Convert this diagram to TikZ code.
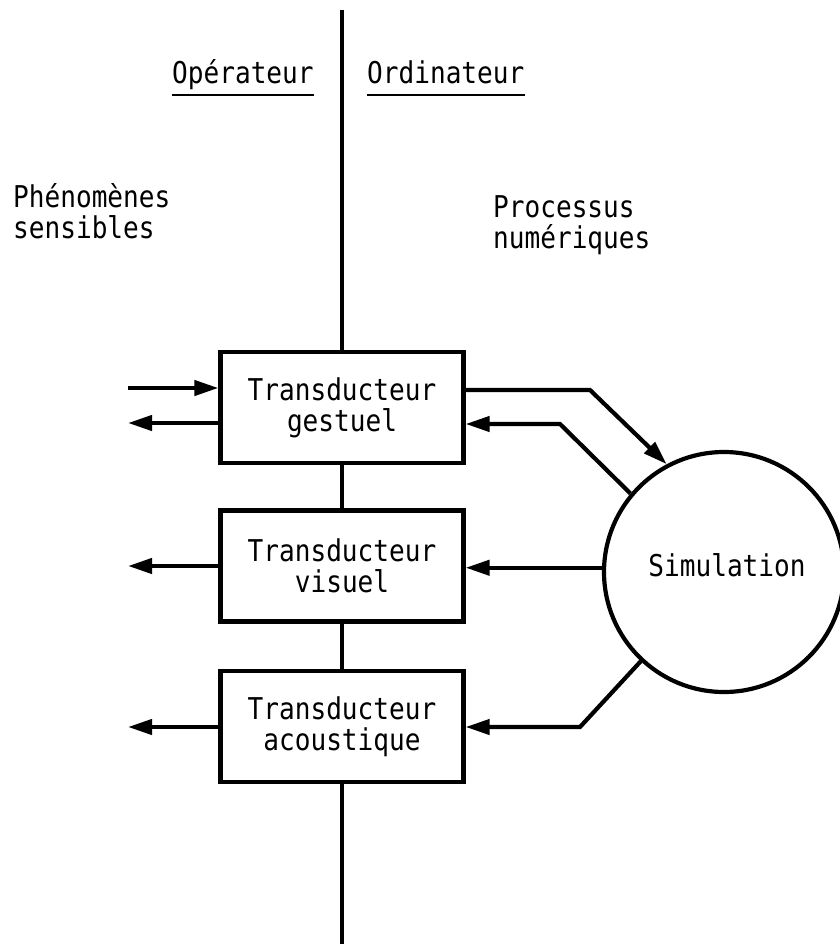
\documentclass[tikz,border=0pt]{standalone}
\usepackage{fontspec}
\newfontfamily\typefont[FakeStretch=0.87]{DejaVu Sans Mono}
\usetikzlibrary{arrows.meta}
\newcommand\diagfont{\typefont\fontsize{30}{31}\selectfont}
\begin{document}
\begin{tikzpicture}[x=1pt,y=-1pt,
  thick line/.style={line width=4.2pt},
  tbox/.style={draw,line width=4.2pt,minimum width=243pt,minimum height=111pt,inner sep=0pt,align=center,font=\diagfont},
  lbl/.style={font=\diagfont,align=left,inner sep=0pt},
  arr/.style={line width=4.2pt,line join=miter,-{Triangle[length=24pt,width=15pt]}}]
\useasboundingbox (0,0) rectangle (839,944);
% boxes
\node[tbox] (b1) at (342,407.5) {Transducteur\\gestuel};
\node[tbox] (b2) at (342,566) {Transducteur\\visuel};
\node[tbox] (b3) at (342,726.5) {Transducteur\\acoustique};
\node[draw,circle,line width=4.2pt,minimum size=240pt,inner sep=0pt,font=\diagfont] (sim) at (724,572) {};
\node[lbl] (simtxt) at (727,565) {Simulation};
% vertical separator
\coordinate (top) at (342,10);
\coordinate (bot) at (342,944);
\draw[thick line] (top) -- (b1.north);
\draw[thick line] (b1.south) -- (b2.north);
\draw[thick line] (b2.south) -- (b3.north);
\draw[thick line] (b3.south) -- (bot);
% headings
\node[lbl,anchor=base west] (op) at (172,84) {Opérateur};
\node[lbl,anchor=base west] (ord) at (367,84) {Ordinateur};
\draw[line width=2pt] ([yshift=-11pt]op.base west) -- ([yshift=-11pt]op.base east);
\draw[line width=2pt] ([yshift=-11pt]ord.base west) -- ([yshift=-11pt]ord.base east);
\node[lbl,anchor=base west] (phen) at (13,238) {Phénomènes\\sensibles};
\node[lbl,anchor=base west] (proc) at (493,248) {Processus\\numériques};
% left arrows
\coordinate (l1) at (128,388);
\coordinate (l2) at (128,423);
\coordinate (l3) at (128,566);
\coordinate (l4) at (128,727);
\draw[arr] (l1) -- (l1 -| b1.west);
\draw[arr] (l2 -| b1.west) -- (l2);
\draw[arr] (l3 -| b2.west) -- (l3);
\draw[arr] (l4 -| b3.west) -- (l4);
% right arrows
\coordinate (k1) at (590,390);
\coordinate (k2) at (560,424);
\coordinate (k3) at (580,727);
\draw[arr] (k1 -| b1.east) -- (k1) -- (sim.118.5);
\draw[arr] (sim.140) -- (k2) -- (k2 -| b1.east);
\draw[arr] (sim.178) -- (sim.178 -| b2.east);
\draw[arr] (sim.227) -- (k3) -- (k3 -| b3.east);
\end{tikzpicture}
\end{document}
